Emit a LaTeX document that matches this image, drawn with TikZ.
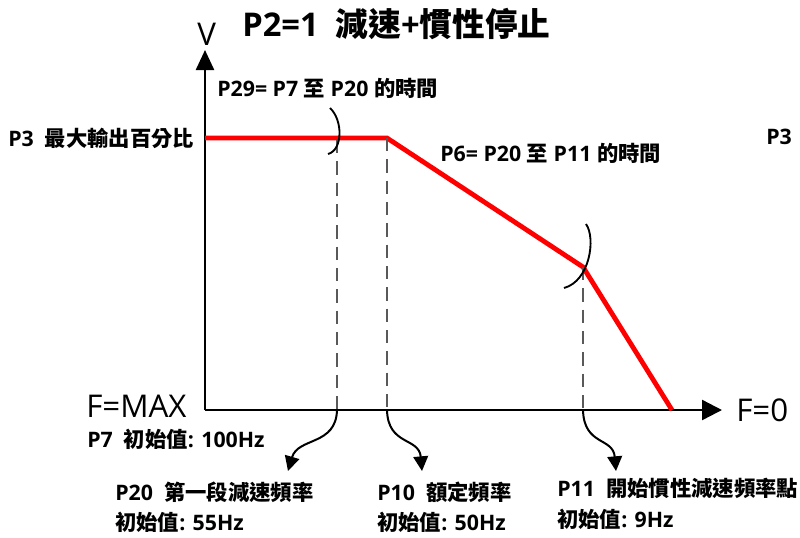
\documentclass[tikz,border=0pt]{standalone}
\usepackage{fontspec}
\setmainfont{Open Sans}
\newfontfamily\cjkfont{Noto Sans CJK TC}
\newcommand\zh[1]{{\cjkfont #1}}
\usepackage{tikz}
\usetikzlibrary{arrows.meta}

\begin{document}
\begin{tikzpicture}[
    x=0.75pt, y=-0.75pt,
    axis/.style={line width=1.8pt},
    speed/.style={line width=3.6pt, red, line join=miter},
    guide/.style={line width=2pt, black!65, dash pattern=on 10pt off 6pt},
    arcline/.style={line width=1.4pt},
    pointer/.style={line width=1.5pt, -{Triangle[width=11pt,length=11pt]}},
    lbl/.style={inner sep=0pt, anchor=west, font=\bfseries\fontsize{16}{18}\selectfont},
    big/.style={inner sep=0pt, anchor=west, font=\fontsize{23.5}{26}\selectfont}
]
\useasboundingbox (0,0) rectangle (800,537);

%---------------------------------
% Axes
%---------------------------------
\coordinate (o)    at (205,410);
\coordinate (vtop) at (205,50);
\coordinate (fend) at (722,410);

\draw[axis, -{Triangle[width=13.5pt,length=15pt]}] (o) -- (vtop);
\draw[axis, -{Triangle[width=15pt,length=15pt]}] (o) -- (fend);

%---------------------------------
% Speed curve
%---------------------------------
\coordinate (s0) at (205,138);
\coordinate (s1) at (387,138);
\coordinate (s2) at (583,267);
\coordinate (s3) at (672,410);

\draw[speed] (s0) -- (s1) -- (s2) -- (s3);

% Guides down to the axis
\coordinate (g20) at (337,140);
\coordinate (f20) at (337,410);
\coordinate (f10) at (387,410);
\coordinate (f11) at (583,410);

\draw[guide] (g20) -- (f20);
\draw[guide] (s1) -- (f10);
\draw[guide] (s2) -- (f11);

% Time marks
\draw[arcline] (330,108) .. controls (343,120) and (343,150) .. (328,154);
\draw[arcline] (586,224) .. controls (596,238) and (590,281) .. (564,288);

%---------------------------------
% Labels
%---------------------------------
\node[big] (v)     at (197,34) {V};
\node[big, font=\bfseries\fontsize{24.5}{28}\selectfont] (title) at (242,24) {P2=1~ \zh{減速}+\zh{慣性停止}};
\node[lbl] (p29)   at (217,88)  {P29= P7 \zh{至} P20 \zh{的時間}};
\node[lbl] (p3)    at (8,138)   {P3~ \zh{最大輸出百分比}};
\node[lbl] (p6)    at (440,153) {P6= P20 \zh{至} P11 \zh{的時間}};
\node[lbl] (p3r)   at (766,137) {P3};
\node[big] (fmax)  at (86,406)  {F=MAX};
\node[lbl] (p7)    at (87,439)  {P7~ \zh{初始值}: 100Hz};
\node[big] (fzero) at (736,410) {F=0};

\node[lbl] (p20)   at (115,492) {P20~ \zh{第一段減速頻率}};
\node[lbl] (p20v)  at (115,522) {\zh{初始值}: 55Hz};
\node[lbl] (p10)   at (377,492) {P10~ \zh{額定頻率}};
\node[lbl] (p10v)  at (377,522) {\zh{初始值}: 50Hz};
\node[lbl] (p11)   at (557,488) {P11~ \zh{開始慣性減速頻率點}};
\node[lbl] (p11v)  at (557,519) {\zh{初始值}: 9Hz};

%---------------------------------
% Pointers to the labels
%---------------------------------
\coordinate (t20) at (288,471);
\coordinate (t10) at (422,471);
\coordinate (t11) at (616,471);

\draw[pointer] (f20) .. controls (336,446) and (298,437) .. (t20);
\draw[pointer] (f10) .. controls (388,446) and (419,437) .. (t10);
\draw[pointer] (f11) .. controls (584,446) and (613,437) .. (t11);

\end{tikzpicture}
\end{document}
